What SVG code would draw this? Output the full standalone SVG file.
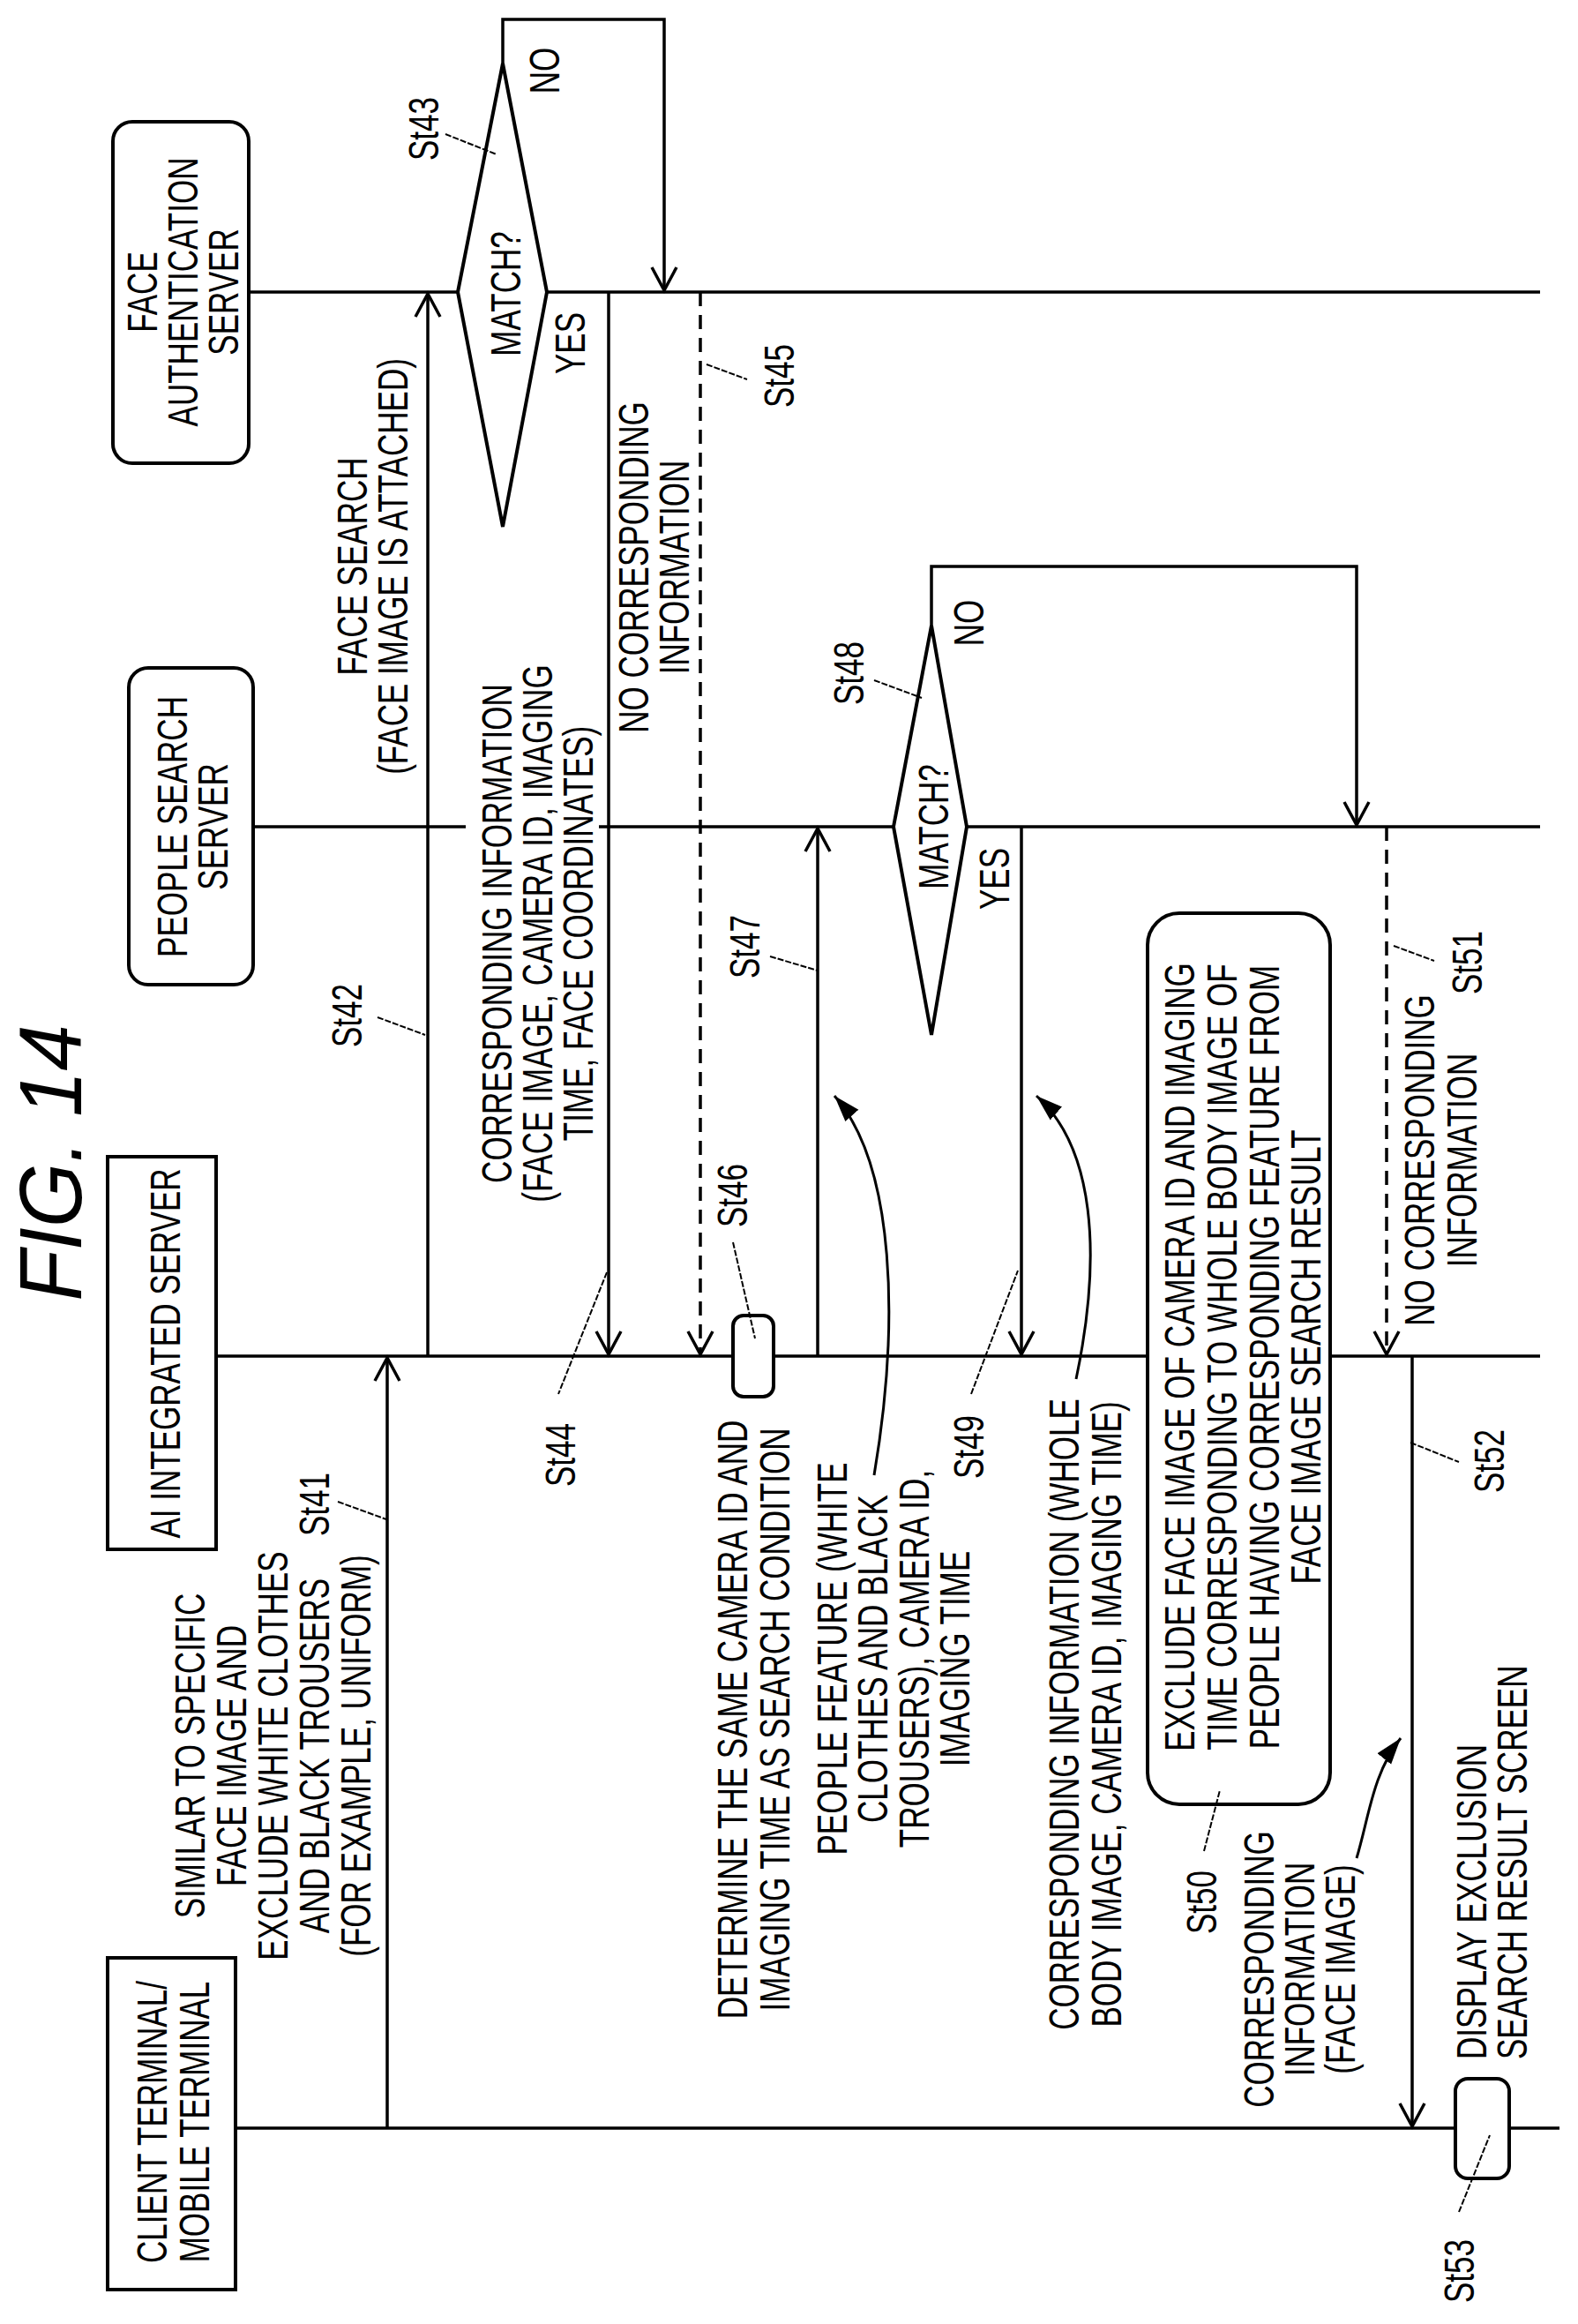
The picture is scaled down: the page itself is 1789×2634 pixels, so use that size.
<svg xmlns="http://www.w3.org/2000/svg" width="1789" height="2634" viewBox="0 0 1789 2634">
<style>
text{font-family:"Liberation Sans",Arial,sans-serif;font-size:48px;fill:#000;text-anchor:middle}
.ln{stroke:#000;stroke-width:3.5;fill:none}
.dl{stroke:#000;stroke-width:3.5;fill:none;stroke-dasharray:16 10}
.bx{stroke:#000;stroke-width:4;fill:#fff}
.ld{stroke:#000;stroke-width:2;fill:none;stroke-dasharray:7 2}
.cv{stroke:#000;stroke-width:3;fill:none}
</style>
<defs>
<marker id="op" markerUnits="userSpaceOnUse" viewBox="-10 0 40 40" markerWidth="40" markerHeight="40" refX="20" refY="20" orient="auto"><path d="M -6 6 L 20 20 L -6 34" fill="none" stroke="#000" stroke-width="3.5"/></marker>
<marker id="fl" markerUnits="userSpaceOnUse" viewBox="0 0 40 40" markerWidth="40" markerHeight="40" refX="30" refY="20" orient="auto"><path d="M 0 10 L 30 20 L 0 30 Z" fill="#000"/></marker>
</defs>
<text transform="translate(92,1318) rotate(-90) scale(0.94,1)" style="font-size:100px;font-style:italic">FIG. 14</text>
<g id="lifelines">
<line class="ln" x1="282" y1="331" x2="1746" y2="331"/>
<line class="ln" x1="287" y1="937" x2="528" y2="937"/>
<line class="ln" x1="679" y1="937" x2="1746" y2="937"/>
<line class="ln" x1="245" y1="1537" x2="1746" y2="1537"/>
<line class="ln" x1="267" y1="2412" x2="1768" y2="2412"/>
</g>
<g id="face-auth-server">
<rect class="bx" x="128" y="138" width="154" height="387" rx="22"/>
<text transform="translate(178,331) rotate(-90) scale(0.73,1)"><tspan x="0">FACE</tspan><tspan x="0" dy="46">AUTHENTICATION</tspan><tspan x="0" dy="46">SERVER</tspan></text>
</g>
<g id="people-search-server">
<rect class="bx" x="146" y="757" width="141" height="359" rx="22"/>
<text transform="translate(212,937) rotate(-90) scale(0.73,1)"><tspan x="0">PEOPLE SEARCH</tspan><tspan x="0" dy="46">SERVER</tspan></text>
</g>
<g id="ai-integrated-server">
<rect class="bx" x="122" y="1311" width="123" height="445"/>
<text transform="translate(204,1534) rotate(-90) scale(0.73,1)">AI INTEGRATED SERVER</text>
</g>
<g id="client-terminal">
<rect class="bx" x="122" y="2219" width="145" height="376"/>
<text transform="translate(189,2405) rotate(-90) scale(0.73,1)"><tspan x="0">CLIENT TERMINAL/</tspan><tspan x="0" dy="48">MOBILE TERMINAL</tspan></text>
</g>
<g id="connectors">
<line class="ln" x1="439" y1="2412" x2="439" y2="1539" marker-end="url(#op)"/>
<line class="ln" x1="485" y1="1537" x2="485" y2="333" marker-end="url(#op)"/>
<polyline class="ln" points="570,72 570,22 753,22 753,329" marker-end="url(#op)"/>
<line class="ln" x1="690" y1="331" x2="690" y2="1535" marker-end="url(#op)"/>
<line class="dl" x1="794" y1="331" x2="794" y2="1535" marker-end="url(#op)"/>
<line class="ln" x1="927" y1="1537" x2="927" y2="939" marker-end="url(#op)"/>
<polyline class="ln" points="1056,709 1056,642 1538,642 1538,935" marker-end="url(#op)"/>
<line class="ln" x1="1158" y1="937" x2="1158" y2="1535" marker-end="url(#op)"/>
<line class="dl" x1="1572" y1="937" x2="1572" y2="1535" marker-end="url(#op)"/>
<line class="ln" x1="1601" y1="1537" x2="1601" y2="2410" marker-end="url(#op)"/>
<path class="cv" d="M991 1672 C1020 1500 1015 1320 946 1242" marker-end="url(#fl)"/>
<path class="cv" d="M1220 1563 C1250 1420 1240 1300 1175 1242" marker-end="url(#fl)"/>
<path class="cv" d="M1538 2106 C1552 2060 1556 2010 1588 1970" marker-end="url(#fl)"/>
</g>
<g id="st43">
<polygon class="bx" points="519,331 570,72 620,331 570,597"/>
<text transform="translate(590,333) rotate(-90) scale(0.73,1)">MATCH?</text>
<text transform="translate(634,80) rotate(-90) scale(0.73,1)">NO</text>
<text transform="translate(663,389) rotate(-90) scale(0.73,1)">YES</text>
<text transform="translate(497,146) rotate(-90) scale(0.73,1)">St43</text>
<line class="ld" x1="505" y1="152" x2="563" y2="175"/>
</g>
<g id="st48">
<polygon class="bx" points="1013,937 1056,709 1096,937 1056,1173"/>
<text transform="translate(1075,937) rotate(-90) scale(0.73,1)">MATCH?</text>
<text transform="translate(1115,706) rotate(-90) scale(0.73,1)">NO</text>
<text transform="translate(1144,996) rotate(-90) scale(0.73,1)">YES</text>
<text transform="translate(979,763) rotate(-90) scale(0.73,1)">St48</text>
<line class="ld" x1="991" y1="771" x2="1045" y2="791"/>
</g>
<g id="st41">
<text transform="translate(232,1990) rotate(-90) scale(0.73,1)"><tspan x="0">SIMILAR TO SPECIFIC</tspan><tspan x="0" dy="47">FACE IMAGE AND</tspan><tspan x="0" dy="47">EXCLUDE WHITE CLOTHES</tspan><tspan x="0" dy="47">AND BLACK TROUSERS</tspan><tspan x="0" dy="47">(FOR EXAMPLE, UNIFORM)</tspan></text>
<text transform="translate(373,1705) rotate(-90) scale(0.73,1)">St41</text>
<line class="ld" x1="383" y1="1702" x2="438" y2="1722"/>
</g>
<g id="st42">
<text transform="translate(416,642) rotate(-90) scale(0.73,1)"><tspan x="0">FACE SEARCH</tspan><tspan x="0" dy="46">(FACE IMAGE IS ATTACHED)</tspan></text>
<text transform="translate(410,1151) rotate(-90) scale(0.73,1)">St42</text>
<line class="ld" x1="428" y1="1153" x2="482" y2="1173"/>
</g>
<g id="st44">
<text transform="translate(580,1058) rotate(-90) scale(0.73,1)"><tspan x="0">CORRESPONDING INFORMATION</tspan><tspan x="0" dy="46">(FACE IMAGE, CAMERA ID, IMAGING</tspan><tspan x="0" dy="46">TIME, FACE COORDINATES)</tspan></text>
<text transform="translate(652,1649) rotate(-90) scale(0.73,1)">St44</text>
<line class="ld" x1="688" y1="1442" x2="633" y2="1580"/>
</g>
<g id="st45">
<text transform="translate(735,643) rotate(-90) scale(0.73,1)"><tspan x="0">NO CORRESPONDING</tspan><tspan x="0" dy="46">INFORMATION</tspan></text>
<text transform="translate(900,426) rotate(-90) scale(0.73,1)">St45</text>
<line class="ld" x1="801" y1="413" x2="847" y2="430"/>
</g>
<g id="st46">
<rect class="bx" x="831" y="1491" width="46" height="92" rx="12"/>
<text transform="translate(847,1355) rotate(-90) scale(0.73,1)">St46</text>
<line class="ld" x1="831" y1="1408" x2="856" y2="1517"/>
<text transform="translate(847,1949) rotate(-90) scale(0.73,1)"><tspan x="0">DETERMINE THE SAME CAMERA ID AND</tspan><tspan x="0" dy="48">IMAGING TIME AS SEARCH CONDITION</tspan></text>
</g>
<g id="st47">
<text transform="translate(861,1073) rotate(-90) scale(0.73,1)">St47</text>
<line class="ld" x1="873" y1="1084" x2="927" y2="1100"/>
<text transform="translate(960,1880) rotate(-90) scale(0.73,1)"><tspan x="0">PEOPLE FEATURE (WHITE</tspan><tspan x="0" dy="46">CLOTHES AND BLACK</tspan><tspan x="0" dy="47">TROUSERS), CAMERA ID,</tspan><tspan x="0" dy="46">IMAGING TIME</tspan></text>
</g>
<g id="st49">
<text transform="translate(1115,1640) rotate(-90) scale(0.73,1)">St49</text>
<line class="ld" x1="1101" y1="1580" x2="1154" y2="1440"/>
<text transform="translate(1223,1943) rotate(-90) scale(0.73,1)"><tspan x="0">CORRESPONDING INFORMATION (WHOLE</tspan><tspan x="0" dy="48">BODY IMAGE, CAMERA ID, IMAGING TIME)</tspan></text>
</g>
<g id="st50">
<rect class="bx" x="1301" y="1035" width="207" height="1010" rx="36"/>
<text transform="translate(1354,1538) rotate(-90) scale(0.73,1)"><tspan x="0">EXCLUDE FACE IMAGE OF CAMERA ID AND IMAGING</tspan><tspan x="0" dy="48">TIME CORRESPONDING TO WHOLE BODY IMAGE OF</tspan><tspan x="0" dy="48">PEOPLE HAVING CORRESPONDING FEATURE FROM</tspan><tspan x="0" dy="47">FACE IMAGE SEARCH RESULT</tspan></text>
<text transform="translate(1379,2156) rotate(-90) scale(0.73,1)">St50</text>
<line class="ld" x1="1365" y1="2098" x2="1383" y2="2029"/>
</g>
<g id="st51">
<text transform="translate(1626,1315) rotate(-90) scale(0.73,1)"><tspan x="0">NO CORRESPONDING</tspan><tspan x="0" dy="48">INFORMATION</tspan></text>
<text transform="translate(1680,1091) rotate(-90) scale(0.73,1)">St51</text>
<line class="ld" x1="1580" y1="1072" x2="1626" y2="1089"/>
</g>
<g id="st52">
<text transform="translate(1705,1656) rotate(-90) scale(0.73,1)">St52</text>
<line class="ld" x1="1599" y1="1635" x2="1654" y2="1657"/>
<text transform="translate(1444,2232) rotate(-90) scale(0.73,1)"><tspan x="0">CORRESPONDING</tspan><tspan x="0" dy="46">INFORMATION</tspan><tspan x="0" dy="46">(FACE IMAGE)</tspan></text>
</g>
<g id="st53">
<rect class="bx" x="1650" y="2356" width="61" height="113" rx="14"/>
<text transform="translate(1671,2574) rotate(-90) scale(0.73,1)">St53</text>
<line class="ld" x1="1654" y1="2507" x2="1689" y2="2420"/>
<text transform="translate(1685,2334) rotate(-90) scale(0.73,1)" style="text-anchor:start"><tspan x="0">DISPLAY EXCLUSION</tspan><tspan x="0" dy="46">SEARCH RESULT SCREEN</tspan></text>
</g>
</svg>
